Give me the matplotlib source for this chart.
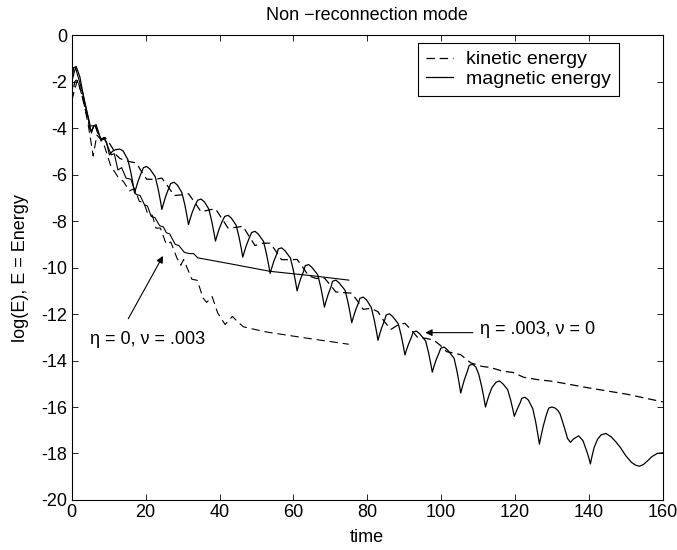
# energy decay, non-reconnection mode
import matplotlib
matplotlib.use("Agg")
from matplotlib import pyplot as plt

# run with eta = .003, nu = 0 : magnetic energy (solid)
t_mag_a = [0, 0.5, 1.2, 2.2, 3.5, 4.5, 5.2, 6.0, 6.6, 7.3, 7.9, 8.6, 9.4, 10.2,
           11.0, 11.8, 13.0, 13.9, 15.2, 16.0, 16.6, 17.0,
           17.4, 18.0, 18.8, 19.4, 20.3, 21.2, 22.6, 23.4, 24.0, 24.4,
           24.8, 25.4, 26.2, 26.8, 27.7, 28.6, 29.8, 30.6, 31.2, 31.6,
           32.0, 32.6, 33.4, 34.1, 35.0, 35.9, 37.1, 37.9, 38.5, 38.9,
           39.3, 39.9, 40.7, 41.4, 42.3, 43.2, 44.5, 45.3, 45.9, 46.3,
           46.7, 47.3, 48.1, 48.7, 49.6, 50.5, 51.9, 52.7, 53.3, 53.7,
           54.1, 54.7, 55.5, 55.9, 56.8, 57.7, 59.2, 60.0, 60.6, 61.0,
           61.4, 62.0, 62.8, 63.2, 64.1, 65.0, 66.6, 67.4, 68.0, 68.4,
           68.8, 69.4, 70.2, 70.6, 71.5, 72.4, 74.0, 74.8, 75.4, 75.8,
           76.2, 76.8, 77.6, 78.0, 78.9, 79.8, 81.1, 81.9, 82.5, 82.9,
           83.3, 83.9, 84.7, 85.1, 86.0, 86.9, 88.4, 89.2, 89.8, 90.2,
           90.6, 91.2, 92.0, 92.4, 93.3, 94.2, 95.8, 96.6, 97.2, 97.6,
           98.0, 98.6, 99.4, 99.9, 100.8, 101.7, 103.5, 104.3, 104.9, 105.3,
           105.7, 106.3, 107.1, 107.6, 108.5, 109.4, 110.2, 111.0, 111.6, 112.0,
           112.4, 113.0, 113.8, 114.9, 115.8, 116.7, 118.0, 118.8, 119.4, 119.8,
           120.2, 120.8, 121.5, 121.8, 122.7, 123.6, 124.8, 125.6, 126.2, 126.6,
           127.0, 127.6, 128.4, 129.1, 130.0, 130.9, 131.6, 132.2, 133.3, 134.2, 135.0,
           135.8, 137.2, 138.4, 139.4, 140.0, 140.4,
           140.8, 141.4, 142.3, 143.3, 144.6, 146.0, 147.3, 148.5, 150.0,
           151.5, 152.6, 153.7, 154.8, 156.0, 157.1, 158.5, 160.0]
e_mag_a = [-2.0, -1.4, -1.35, -1.8, -2.9, -3.6, -4.15, -3.9, -3.85, -4.2, -4.55, -4.4, -4.6, -5.15,
           -5.0, -4.93, -4.9, -4.98, -5.36, -5.91, -6.42, -6.8,
           -6.57, -6.26, -5.93, -5.70, -5.65, -5.77, -6.09, -6.63, -7.13, -7.5,
           -7.27, -6.95, -6.61, -6.38, -6.33, -6.45, -6.77, -7.29, -7.79, -8.15,
           -7.93, -7.63, -7.31, -7.10, -7.05, -7.17, -7.48, -8.01, -8.50, -8.86,
           -8.64, -8.34, -8.02, -7.80, -7.75, -7.87, -8.18, -8.70, -9.19, -9.55,
           -9.33, -9.03, -8.71, -8.49, -8.44, -8.56, -8.87, -9.40, -9.89, -10.25,
           -10.03, -9.73, -9.41, -9.20, -9.15, -9.27, -9.59, -10.13, -10.63, -11.0,
           -10.77, -10.47, -10.14, -9.92, -9.87, -9.99, -10.31, -10.84, -11.33, -11.7,
           -11.47, -11.16, -10.82, -10.59, -10.54, -10.66, -10.98, -11.51, -12.0, -12.37,
           -12.15, -11.85, -11.53, -11.32, -11.27, -11.39, -11.72, -12.26, -12.76, -13.13,
           -12.90, -12.59, -12.26, -12.04, -11.99, -12.11, -12.42, -12.93, -13.41, -13.76,
           -13.55, -13.28, -12.98, -12.78, -12.73, -12.85, -13.16, -13.67, -14.15, -14.5,
           -14.28, -13.99, -13.68, -13.47, -13.42, -13.54, -13.90, -14.47, -15.0, -15.4,
           -15.15, -14.82, -14.46, -14.21, -14.16, -14.28, -14.60, -15.14, -15.63, -16.0,
           -15.78, -15.47, -15.15, -14.93, -14.88, -15.0, -15.25, -15.69, -16.10, -16.4,
           -16.24, -16.02, -15.78, -15.63, -15.58, -15.70, -16.07, -16.65, -17.20, -17.6,
           -17.28, -16.85, -16.38, -16.05, -16.0, -16.05, -16.15, -16.3, -16.85, -17.35, -17.52,
           -17.38, -17.24, -17.45, -17.9, -18.2, -18.45,
           -18.15, -17.75, -17.4, -17.2, -17.14, -17.28, -17.5, -17.74, -18.1,
           -18.38, -18.5, -18.55, -18.47, -18.3, -18.13, -18.0, -17.97]

# run with eta = .003, nu = 0 : kinetic energy (dashed)
t_kin_a = [0, 0.8, 1.5, 2.5, 3.5, 4.5, 5.2, 6.2, 7.0, 8.0, 9.0, 10.0, 11.0, 12.0, 13.0,
           14.5, 16.0, 17.5, 19.0, 20.3, 22.5, 24.4, 26.0, 27.7, 29.8, 31.6, 33.3,
           35.0, 37.2, 38.9, 40.6, 42.3, 44.5, 46.3, 48.0, 49.6, 51.8, 53.7, 55.3,
           56.8, 59.0, 61.0, 62.6, 64.1, 66.2, 68.4, 70.0, 71.5, 73.8, 75.8, 77.4,
           78.9, 81.0, 82.9, 84.5, 86.4, 88.5, 90.2, 92.0, 93.6, 96.0, 98.1, 99.8,
           101.5, 103.5, 105.3, 108.0, 111.0, 113.3, 116.5, 119.6, 122.3, 126.0,
           130.4, 140.0, 150.3, 160.0]
e_kin_a = [-2.8, -2.0, -1.9, -2.4, -3.1, -3.7, -4.25, -3.8, -4.2, -4.5, -4.4, -4.6, -4.85, -5.15, -5.3,
           -5.4, -5.45, -5.5, -5.9, -6.2, -6.2, -6.15, -6.5, -6.9, -6.87, -6.82, -7.2,
           -7.6, -7.52, -7.47, -7.88, -8.3, -8.27, -8.22, -8.65, -9.05, -8.95, -8.95, -9.3,
           -9.66, -9.66, -9.65, -10.0, -10.35, -10.47, -10.45, -10.75, -11.05, -11.08, -11.1, -11.45,
           -11.8, -11.75, -11.9, -12.3, -12.66, -12.45, -12.4, -12.7, -13.0, -13.05, -13.13, -13.35,
           -13.62, -13.68, -13.75, -14.1, -14.25, -14.3, -14.45, -14.52, -14.72, -14.82,
           -14.9, -15.18, -15.45, -15.78]

# run with eta = 0, nu = .003 : magnetic energy (solid)
t_mag_b = [0, 1.0, 3.0, 5.0, 6.3, 7.9, 9.0, 10.7, 11.5, 12.5, 13.5, 14.7, 16.0, 17.4,
           18.5, 19.7, 20.5, 21.5, 22.5, 23.8, 24.8, 25.6, 26.5, 28.0, 29.0, 30.5,
           32.0, 33.0, 34.1, 44.0, 53.6, 65.0, 75.0]
e_mag_b = [-2.0, -1.4, -2.5, -3.9, -3.9, -4.45, -4.5, -5.15, -5.1, -5.8, -5.7, -6.15, -6.2, -6.85,
           -6.9, -7.3, -7.35, -7.8, -7.85, -8.2, -8.25, -8.5, -8.55, -9.0, -9.05, -9.35,
           -9.4, -9.4, -9.58, -9.87, -10.16, -10.35, -10.54]

# run with eta = 0, nu = .003 : kinetic energy (dashed)
t_kin_b = [0, 1.5, 3.0, 4.5, 5.8, 6.8, 8.5, 10.5, 12.5, 14.0, 15.6, 17.0, 18.3, 19.5,
           20.6, 21.8, 22.8, 24.0, 25.6, 26.8, 28.5, 29.5, 30.3, 31.2, 32.5, 34.0,
           35.5, 36.5, 38.0, 39.5, 41.5, 43.5, 45.0, 46.5, 49.5, 53.0, 60.0, 65.0, 75.0]
e_kin_b = [-2.8, -1.95, -2.7, -3.9, -5.2, -4.3, -4.6, -5.6, -6.1, -6.3, -6.7, -6.6, -7.15, -7.2,
           -7.7, -7.75, -8.3, -8.3, -9.0, -8.9, -9.6, -9.9, -9.65, -10.0, -10.5, -10.55,
           -11.3, -11.5, -11.25, -11.95, -12.45, -12.1, -12.35, -12.55, -12.66, -12.78, -12.95, -13.07, -13.3]

x_ticks = [0, 20, 40, 60, 80, 100, 120, 140, 160]
y_ticks = [0, -2, -4, -6, -8, -10, -12, -14, -16, -18, -20]

plt.rcParams["font.family"] = ["Liberation Sans", "DejaVu Sans"]
plt.rcParams["font.size"] = 13
plt.rcParams["lines.scale_dashes"] = False
plt.rcParams["axes.unicode_minus"] = False

fig = plt.figure(figsize=(6.77, 5.5), dpi=100)
ax = fig.add_axes([0.106, 0.091, 0.873, 0.845])

dash = (6, 3.5)
ax.plot(t_kin_a, e_kin_a, color="k", lw=0.9, dashes=dash, label="kinetic energy")
ax.plot(t_mag_a, e_mag_a, color="k", lw=0.9, label="magnetic energy")
ax.plot(t_kin_b, e_kin_b, color="k", lw=0.8, dashes=dash)
ax.plot(t_mag_b, e_mag_b, color="k", lw=0.8)

ax.set_xlim(0, 160)
ax.set_ylim(-20, 0)
ax.set_xticks(x_ticks)
ax.set_yticks(y_ticks)
ax.tick_params(direction="in", length=4.5, width=0.6, top=True, right=True, pad=3)
for s in ax.spines.values():
    s.set_linewidth(0.8)

ax.set_title("Non \u2212reconnection mode", fontsize=13, pad=11)
ax.set_xlabel("time", labelpad=6)
ax.set_ylabel("log(E), E = Energy", labelpad=9)

leg = ax.legend(loc="upper right", bbox_to_anchor=(0.9255, 0.983), fancybox=False,
                edgecolor="k", framealpha=1, handlelength=1.4, handletextpad=0.67,
                borderpad=0.4, labelspacing=0.1, borderaxespad=0, fontsize=14)
leg.get_frame().set_linewidth(0.8)

arrow = dict(arrowstyle="-|>", color="k", lw=0.8, mutation_scale=10, shrinkA=0, shrinkB=0)
ax.annotate("", xy=(24.7, -9.5), xytext=(15.3, -12.2), arrowprops=arrow)
ax.text(4.9, -13.1, "\u03b7 = 0, \u03bd = .003", ha="left", va="center")
ax.annotate("", xy=(95.7, -12.8), xytext=(108.6, -12.8), arrowprops=arrow)
ax.text(110.6, -12.65, "\u03b7 = .003, \u03bd = 0", ha="left", va="center")

fig.savefig("out.png", dpi=100)
